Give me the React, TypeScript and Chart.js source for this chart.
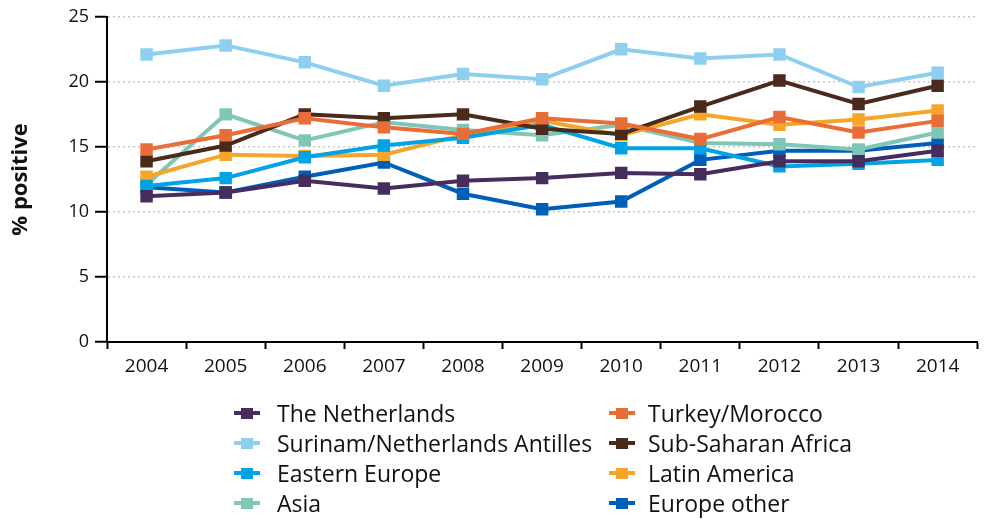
import React, { useEffect, useRef } from "react";
import { Chart, registerables } from "chart.js";

Chart.register(...registerables);

const years = ["2004", "2005", "2006", "2007", "2008", "2009", "2010", "2011", "2012", "2013", "2014"];
const yTickValues = [0, 5, 10, 15, 20, 25];

const theNetherlands = [11.2, 11.5, 12.4, 11.8, 12.4, 12.6, 13.0, 12.9, 13.9, 13.9, 14.7];
const turkeyMorocco = [14.8, 15.9, 17.2, 16.5, 16.0, 17.2, 16.8, 15.6, 17.3, 16.1, 17.0];
const surinamAntilles = [22.1, 22.8, 21.5, 19.7, 20.6, 20.2, 22.5, 21.8, 22.1, 19.6, 20.7];
const subSaharanAfrica = [13.9, 15.1, 17.5, 17.2, 17.5, 16.4, 16.0, 18.1, 20.1, 18.3, 19.7];
const easternEurope = [12.0, 12.6, 14.2, 15.1, 15.7, 16.7, 14.9, 14.9, 13.5, 13.7, 14.0];
const latinAmerica = [12.7, 14.4, 14.3, 14.4, 15.9, 17.0, 15.9, 17.5, 16.7, 17.1, 17.8];
const asia = [12.1, 17.5, 15.5, 16.9, 16.3, 15.9, 16.7, 15.3, 15.2, 14.8, 16.1];
const europeOther = [11.9, 11.5, 12.7, 13.8, 11.4, 10.2, 10.8, 14.0, 14.7, 14.7, 15.3];

const seriesNames = [
  "The Netherlands",
  "Turkey/Morocco",
  "Surinam/Netherlands Antilles",
  "Sub-Saharan Africa",
  "Eastern Europe",
  "Latin America",
  "Asia",
  "Europe other",
];
const seriesColors = ["#472c5e", "#e96d36", "#8ecff0", "#4a2a1a", "#00a3e4", "#f5a62a", "#80c6b6", "#005eb8"];

const FONT = "'Open Sans', 'Liberation Sans', sans-serif";

export default function App() {
  const ref = useRef<HTMLCanvasElement>(null);

  useEffect(() => {
    const series = [
      theNetherlands,
      turkeyMorocco,
      surinamAntilles,
      subSaharanAfrica,
      easternEurope,
      latinAmerica,
      asia,
      europeOther,
    ];
    const chart = new Chart(ref.current as HTMLCanvasElement, {
      type: "line",
      data: {
        labels: years,
        datasets: series.map((d, i) => ({
          label: seriesNames[i],
          data: d,
          borderColor: seriesColors[i],
          backgroundColor: seriesColors[i],
          borderWidth: 4,
          pointStyle: "rect",
          pointRadius: 8.8,
          pointBorderWidth: 0,
          pointBackgroundColor: seriesColors[i],
          tension: 0,
          fill: false,
        })),
      },
      options: {
        animation: false,
        responsive: false,
        devicePixelRatio: 1,
        layout: { padding: { top: 12, right: 3, bottom: 137, left: 0 } },
        plugins: { legend: { display: false }, tooltip: { enabled: false } },
        scales: {
          x: {
            offset: true,
            grid: {
              offset: true,
              drawOnChartArea: false,
              drawTicks: true,
              tickLength: 7,
              tickColor: "#000",
              tickWidth: 2,
            },
            border: { display: true, color: "#000", width: 2 },
            ticks: {
              color: "#111",
              padding: 6,
              maxRotation: 0,
              autoSkip: false,
              font: { family: FONT, size: 19 },
            },
            afterFit: (scale: any) => {
              scale.height = 40;
            },
          },
          y: {
            min: 0,
            max: 25,
            afterBuildTicks: (scale: any) => {
              scale.ticks = yTickValues.map((v) => ({ value: v }));
            },
            grid: {
              color: "#c8c8c8",
              lineWidth: 1.5,
              tickColor: "#000",
              tickWidth: 2,
              tickLength: 12,
              tickBorderDash: [],
            },
            border: { display: true, color: "#000", width: 2, dash: [2, 3] },
            ticks: {
              color: "#111",
              padding: 6,
              font: { family: FONT, size: 18 },
            },
            title: {
              display: true,
              text: "% positive",
              color: "#111",
              font: { family: FONT, size: 22, weight: "bold", lineHeight: 1.2 },
              padding: { top: 8, bottom: 0 },
            },
            afterFit: (scale: any) => {
              scale.width = 107;
            },
          },
        },
      },
    });
    return () => chart.destroy();
  }, []);

  const rowY = [413, 443, 473, 503];
  const colMarkerX = [234, 609];
  const colTextX = [277, 648];

  return (
    <div style={{ position: "fixed", left: 0, top: 0, width: 986, height: 519, background: "#fff", overflow: "hidden" }}>
      <canvas ref={ref} width={986} height={519} style={{ position: "absolute", left: 0, top: 0, width: 986, height: 519 }} />
      {seriesNames.map((name, i) => {
        const col = i % 2;
        const row = Math.floor(i / 2);
        const cy = rowY[row];
        return (
          <React.Fragment key={name}>
            <div style={{ position: "absolute", left: colMarkerX[col], top: cy - 2, width: 26, height: 4, background: seriesColors[i] }} />
            <div style={{ position: "absolute", left: colMarkerX[col] + 7, top: cy - 5.5, width: 12, height: 11, background: seriesColors[i] }} />
            <div
              style={{
                position: "absolute",
                left: colTextX[col],
                top: cy - 16,
                height: 32,
                lineHeight: "32px",
                fontFamily: FONT,
                fontSize: 23,
                color: "#111",
                whiteSpace: "nowrap",
              }}
            >
              {name}
            </div>
          </React.Fragment>
        );
      })}
    </div>
  );
}
